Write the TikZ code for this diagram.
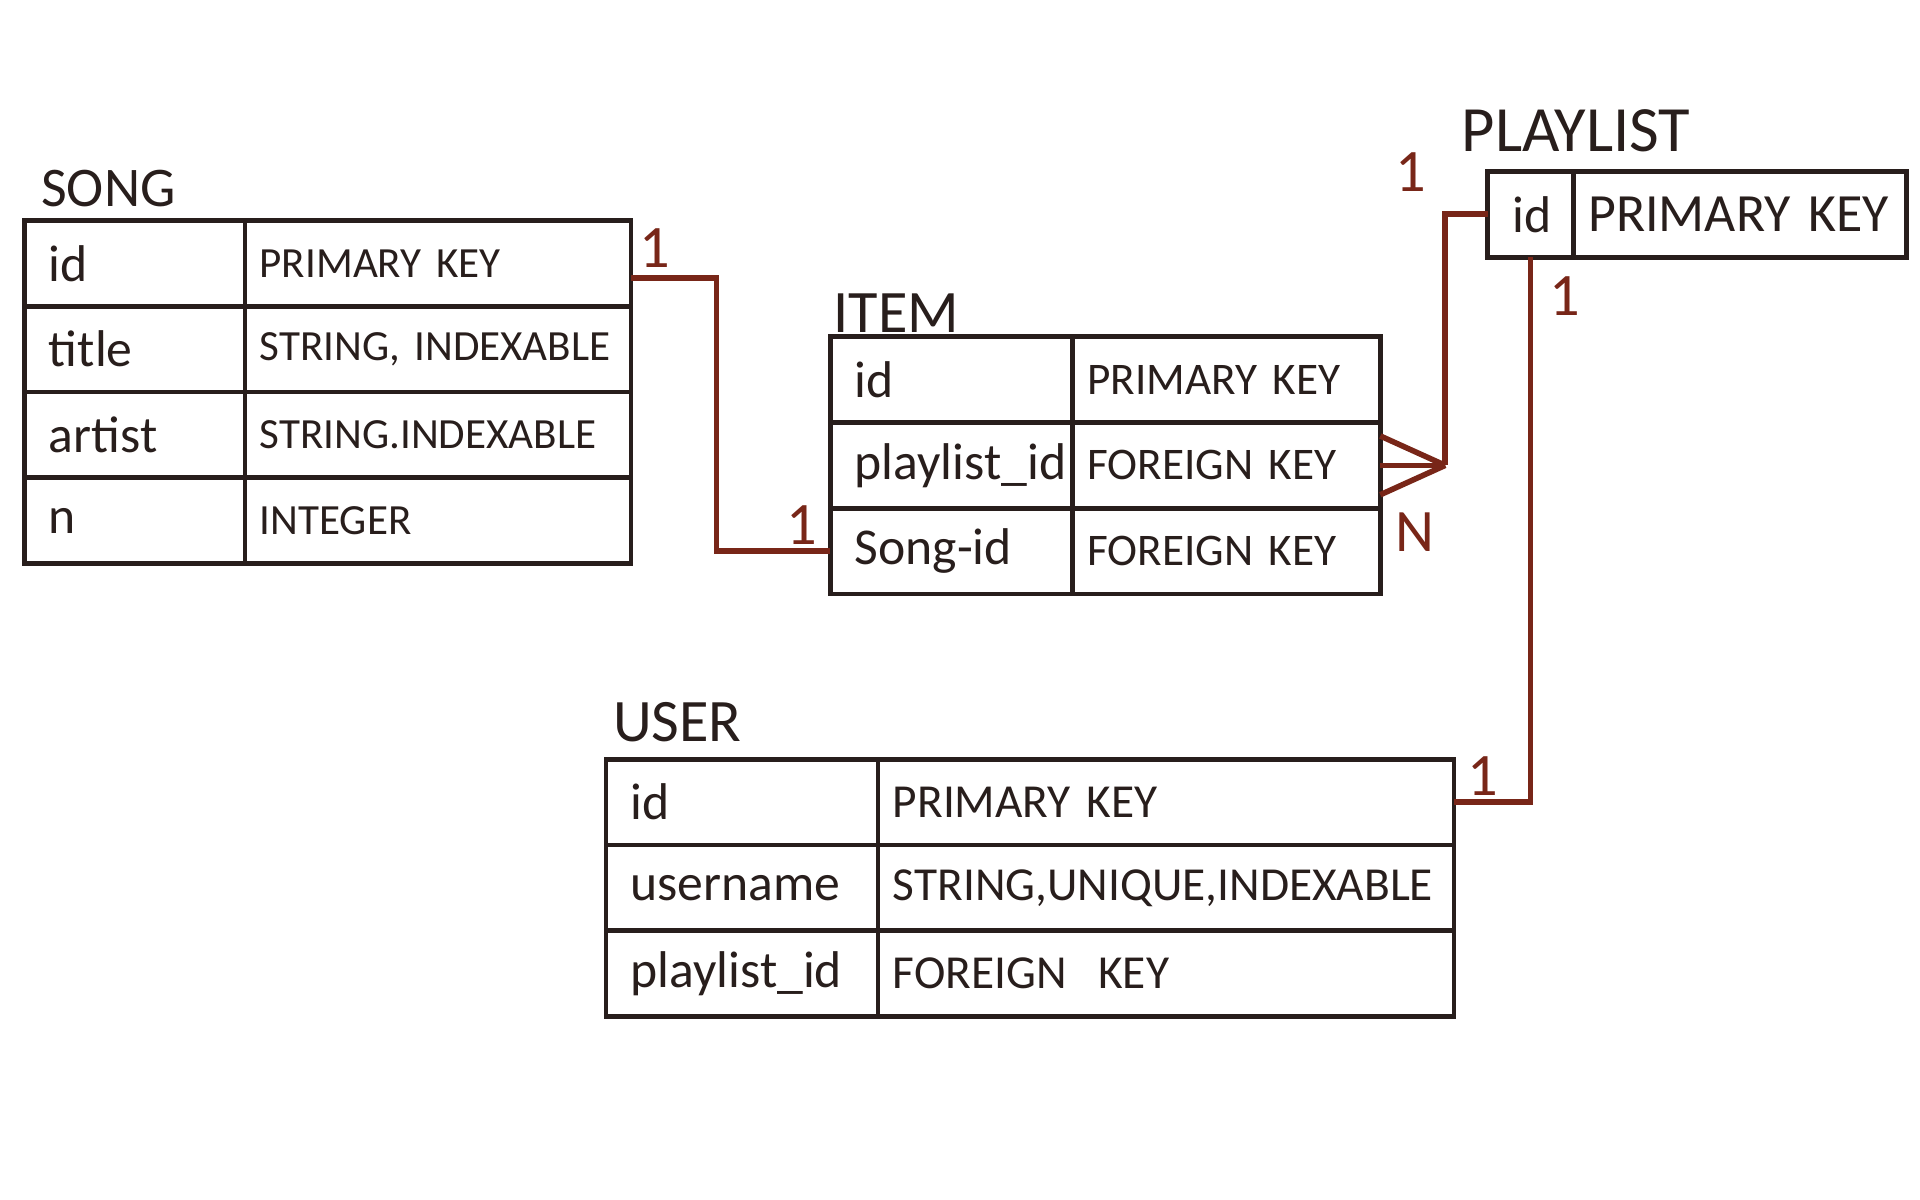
\documentclass[tikz,border=0pt]{standalone}
\usepackage{fontspec}
\setmainfont{Carlito}
\usetikzlibrary{positioning}
\definecolor{ink}{RGB}{40,30,28}
\definecolor{rel}{RGB}{120,38,24}
\hyphenpenalty=10000
\exhyphenpenalty=10000

\begin{document}
\begin{tikzpicture}[x=0.01cm, y=-0.01cm, node distance=0pt,
  cell/.style={draw=ink, line width=1.1pt, outer sep=0pt, minimum height=0.7cm, align=left, text=ink},
  fieldcell/.style={cell, inner xsep=0.2cm, text width=#1, font=\fontsize{12}{14}\selectfont},
  typecell/.style={cell, inner xsep=0.12cm, text width=#1, font=\fontsize{10}{12}\selectfont},
  tabletitle/.style={inner sep=0pt, text=ink, font=\fontsize{14}{16}\selectfont},
  card/.style={inner sep=0pt, text=rel, font=\fontsize{14}{16}\selectfont},
  relation/.style={draw=rel, line width=1.3pt}]
  \useasboundingbox (0,0) rectangle (1568,980);

  % SONG
  \node[fieldcell=1.40cm, anchor=north west] (songid) at (20,180) {id};
  \node[typecell=2.91cm, right=of songid] (songidtype) {PRIMARY~KEY};
  \node[fieldcell=1.40cm, below=of songid] (songtitle) {title};
  \node[typecell=2.91cm, right=of songtitle] (songtitletype) {STRING,~INDEXABLE};
  \node[fieldcell=1.40cm, below=of songtitle] (songartist) {artist};
  \node[typecell=2.91cm, right=of songartist] (songartisttype) {STRING.INDEXABLE};
  \node[fieldcell=1.40cm, below=of songartist] (songn) {n};
  \node[typecell=2.91cm, right=of songn] (songntype) {INTEGER};
  \node[tabletitle, font=\fontsize{13}{15}\selectfont, above right=0.1cm and 0.13cm of songid.north west] (songhead) {SONG};

  % ITEM
  \node[fieldcell=1.58cm, anchor=north west] (itemid) at (678,275) {id};
  \node[typecell=2.27cm, right=of itemid, font=\fontsize{10.5}{12}\selectfont] (itemidtype) {PRIMARY~KEY};
  \node[fieldcell=1.58cm, below=of itemid] (itemplaylist) {playlist\_id};
  \node[typecell=2.27cm, right=of itemplaylist, font=\fontsize{10.5}{12}\selectfont] (itemplaylisttype) {FOREIGN~KEY};
  \node[fieldcell=1.58cm, below=of itemplaylist] (itemsong) {Song-id};
  \node[typecell=2.27cm, right=of itemsong, font=\fontsize{10.5}{12}\selectfont] (itemsongtype) {FOREIGN~KEY};
  \node[tabletitle, above right=0.03cm and 0.02cm of itemid.north west] (itemhead) {ITEM};

  % PLAYLIST
  \node[fieldcell=0.30cm, anchor=north west] (playlistid) at (1215,140) {id};
  \node[typecell=2.48cm, right=of playlistid, font=\fontsize{12.5}{14}\selectfont] (playlistidtype) {PRIMARY~KEY};
  \node[tabletitle, font=\fontsize{15}{17}\selectfont, above right=0.15cm and -0.22cm of playlistid.north west] (playlisthead) {PLAYLIST};

  % USER
  \node[fieldcell=1.82cm, anchor=north west] (userid) at (495,620) {id};
  \node[typecell=4.46cm, right=of userid, font=\fontsize{11}{13}\selectfont] (useridtype) {PRIMARY~KEY};
  \node[fieldcell=1.82cm, below=of userid] (username) {username};
  \node[typecell=4.46cm, right=of username, font=\fontsize{11}{13}\selectfont] (usernametype) {STRING,UNIQUE,INDEXABLE};
  \node[fieldcell=1.82cm, below=of username] (userplaylist) {playlist\_id};
  \node[typecell=4.46cm, right=of userplaylist, font=\fontsize{11}{13}\selectfont] (userplaylisttype) {FOREIGN~~KEY};
  \node[tabletitle, above right=0.13cm and 0.05cm of userid.north west] (userhead) {USER};

  % Relations
  \coordinate (songout) at ([yshift=-0.12cm]songidtype.east);
  \draw[relation] (songout) -- ++(70,0) |- (itemsong.west);
  \coordinate (crow) at ([xshift=0.53cm]itemplaylisttype.east);
  \draw[relation] ([yshift=0.24cm]itemplaylisttype.east) -- (crow);
  \draw[relation] (itemplaylisttype.east) -- (crow);
  \draw[relation] ([yshift=-0.24cm]itemplaylisttype.east) -- (crow);
  \draw[relation] (crow) |- (playlistid.west);
  \draw[relation] (playlistid.south) |- (useridtype.east);

  % Cardinalities
  \node[card, above right=0.08cm and 0.06cm of songout] (songone) {1};
  \node[card, above left=0.05cm and 0.1cm of itemsong.west] (itemone) {1};
  \node[card, below left=0.38cm and 0.08cm of crow] (itemmany) {N};
  \node[card, above left=0.18cm and 0.5cm of playlistid.west] (playlistone) {1};
  \node[card, below right=0.15cm and 0.15cm of playlistid.south] (playlisttwo) {1};
  \node[card, above right=0.05cm and 0.1cm of useridtype.east] (userone) {1};
\end{tikzpicture}
\end{document}
